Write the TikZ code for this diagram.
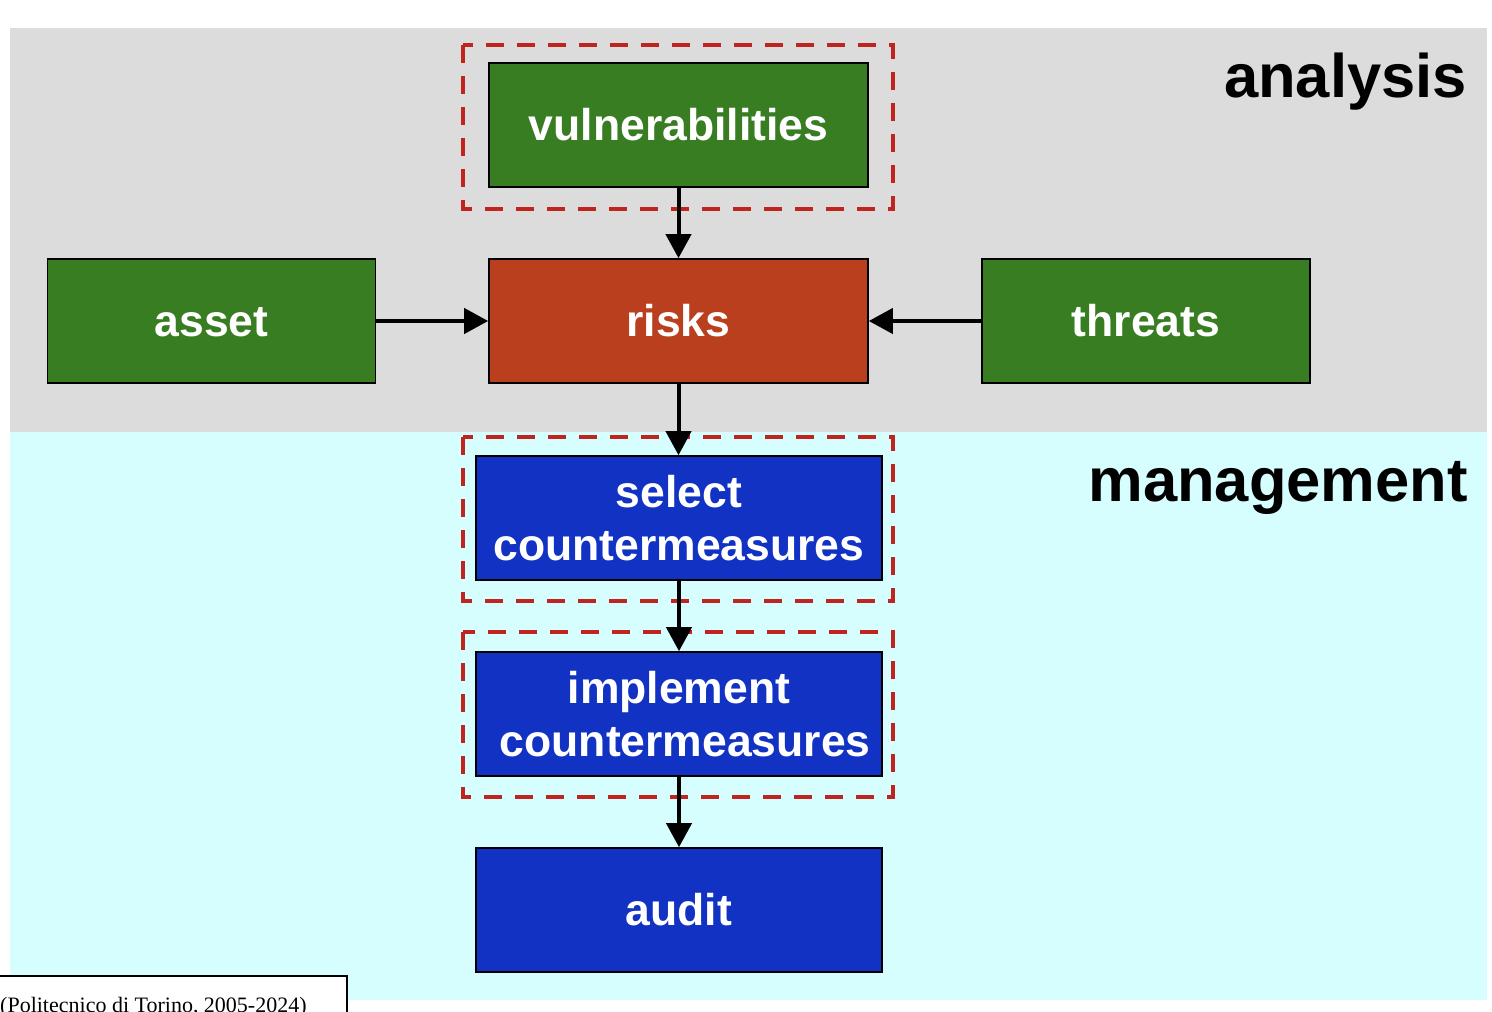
\documentclass[tikz,border=0pt]{standalone}
\usepackage{fontspec}
\setmainfont{Liberation Sans}
\newfontfamily\footfont{Liberation Serif}
\usetikzlibrary{arrows.meta}
\definecolor{bandgray}{HTML}{DCDCDC}
\definecolor{bandcyan}{HTML}{D6FEFE}
\definecolor{boxgreen}{HTML}{387D22}
\definecolor{boxred}{HTML}{BA3F1F}
\definecolor{boxblue}{HTML}{1232C3}
\definecolor{dashred}{HTML}{C0241E}
\tikzset{
  box/.style={draw=black, line width=1.6pt, minimum height=124pt, inner sep=0pt,
    text=white, font=\fontsize{44.5}{53}\selectfont\bfseries, align=center},
  onebox/.style={box, text height=31.5pt, text depth=0pt},
  greenbox/.style={onebox, fill=boxgreen, minimum width=379pt},
  sidebox/.style={onebox, fill=boxgreen, minimum width=328pt},
  redbox/.style={onebox, fill=boxred, minimum width=379pt},
  bluebox/.style={box, fill=boxblue, minimum width=406pt},
  dashbox/.style={draw=dashred, line width=4pt, dash pattern=on 18pt off 13pt},
  conn/.style={draw=black, line width=4pt, -{Triangle[width=25pt,length=24pt]}},
  phase/.style={anchor=base east, inner sep=0pt, font=\fontsize{61.5}{70}\selectfont\bfseries}
}
\begin{document}
\begin{tikzpicture}[x=1pt, y=-1pt]
\useasboundingbox (0,0) rectangle (1492,1012);
% bands
\fill[bandgray] (10,28) rectangle (1487,432);
\fill[bandcyan] (10,432) rectangle (1487,1000);
% phase labels
\node[phase] (analysis) at (1467,97) {analysis};
\node[phase] (management) at (1468,501) {management};
% dashed groups
\draw[dashbox] (463,45) rectangle (893,209);
\draw[dashbox] (463,437) rectangle (893,601);
\draw[dashbox] (463,632) rectangle (893,797);
% boxes
\node[greenbox] (vul) at (678.5,125) {vulnerabilities};
\node[redbox] (risks) at (678.5,321) {risks};
\node[sidebox] (asset) at (211.5,321) {asset};
\node[sidebox] (threats) at (1146,321) {threats};
\node[bluebox] (select) at (679,518) {select\\countermeasures};
\node[bluebox] (impl) at (679,714) {implement\\\hspace*{0.278em}countermeasures};
\node[bluebox, text height=31.5pt, text depth=0pt] (audit) at (679,910) {audit};
% connectors
\draw[conn] (vul.south) -- (risks.north);
\draw[conn] (asset.east) -- (risks.west);
\draw[conn] (threats.west) -- (risks.east);
\draw[conn] (risks.south) -- (risks.south |- select.north);
\draw[conn] (select.south) -- (impl.north);
\draw[conn] (impl.south) -- (audit.north);
% footer
\draw[fill=white, line width=1.5pt] (-3,976) rectangle (347,1030);
\node[anchor=base west, inner sep=0pt, font=\footfont\fontsize{22}{26}\selectfont] (footer) at (0,1012) {(Politecnico di Torino, 2005-2024)};
\end{tikzpicture}
\end{document}
